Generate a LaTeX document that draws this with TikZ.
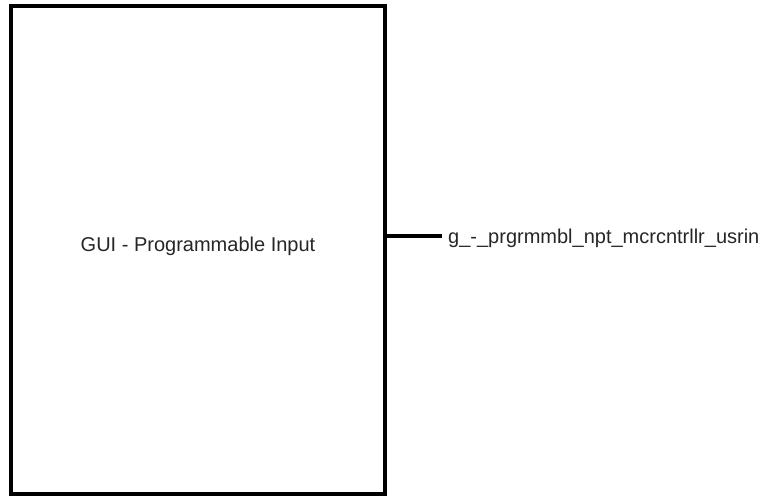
\documentclass[tikz,border=0pt]{standalone}
\usepackage{fontspec}
\setmainfont{Liberation Sans}
\begin{document}
\begin{tikzpicture}[x=1pt,y=-1pt,
  block/.style={draw=black,line width=4pt,minimum width=374.2pt,minimum height=488.3pt,inner sep=0pt,font=\fontsize{20}{24}\selectfont,text=black!85},
  port/.style={inner sep=0pt,anchor=base west,font=\fontsize{20}{24}\selectfont,text=black!85},
  wire/.style={draw=black,line width=4pt}]
\useasboundingbox (0,0) rectangle (764,496);
\node[block] (gui) at (197.6,250.15) {};
\node[anchor=base,font=\fontsize{20}{24}\selectfont,text=black!85,inner sep=0pt] (guilabel) at (198,251.7) {GUI - Programmable Input};
\coordinate (pin) at (386.7,235.5);
\coordinate (pend) at (441.7,235.5);
\node[port] (portlabel) at (448,243.4) {g\_-\_prgrmmbl\_npt\_mcrcntrllr\_usrin};
\draw[wire] (pin) -- (pend);
\end{tikzpicture}
\end{document}
